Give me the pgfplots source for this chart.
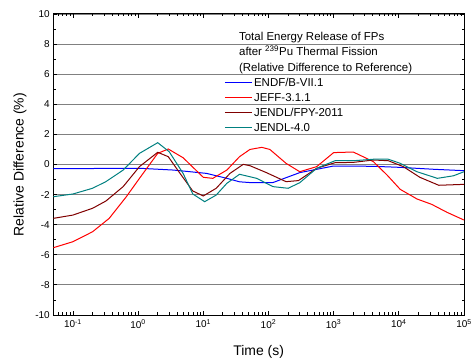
\documentclass[border=0pt]{standalone}
\usepackage{fontspec}
\setmainfont{Liberation Sans}
\usepackage{pgfplots}
\pgfplotsset{compat=1.18}

\definecolor{endf}{RGB}{0,0,255}
\definecolor{jeff}{RGB}{255,0,0}
\definecolor{fpy}{RGB}{128,0,0}
\definecolor{jendl}{RGB}{0,128,128}

\begin{document}
\begin{tikzpicture}
\path[use as bounding box] (-53.3bp,-46bp) rectangle (417.7bp,315bp);
\begin{axis}[
  at={(0,0)}, anchor=south west,
  scale only axis, width=410.7bp, height=301bp,
  xmode=log, xmin=0.05, xmax=1e5,
  ymin=-10, ymax=10,
  xtick={0.1,1,10,100,1000,10000,100000},
  xticklabels={10\textsuperscript{-1},10\textsuperscript{0},10\textsuperscript{1},10\textsuperscript{2},10\textsuperscript{3},10\textsuperscript{4},10\textsuperscript{5}},
  minor xtick={0.06,0.07,0.08,0.09,
    0.2,0.3,0.4,0.5,0.6,0.7,0.8,0.9,
    2,3,4,5,6,7,8,9,
    20,30,40,50,60,70,80,90,
    200,300,400,500,600,700,800,900,
    2000,3000,4000,5000,6000,7000,8000,9000,
    20000,30000,40000,50000,60000,70000,80000,90000},
  ytick={-10,-8,-6,-4,-2,0,2,4,6,8,10},
  yticklabels={-10,-8,-6,-4,-2,0,2,4,6,8,10},
  minor ytick={-9,-7,-5,-3,-1,1,3,5,7,9},
  ymajorgrids,
  major grid style={black!50, line width=0.8bp},
  tick align=inside,
  major tick length=4bp, minor tick length=2.5bp,
  every tick/.style={black, line width=0.8bp},
  axis line style={black, line width=1bp},
  tick label style={font=\fontsize{10}{12}\selectfont},
  xticklabel style={yshift=-1bp},
  xlabel={Time (s)},
  ylabel={Relative Difference (\%)},
  label style={font=\fontsize{14}{16}\selectfont},
  xlabel style={at={(axis description cs:0.5,-0.123)}, anchor=center},
  ylabel style={at={(axis description cs:-0.081,0.5)}, anchor=center, rotate=0},
  legend style={at={(axis description cs:0.4156,0.7924)}, anchor=north west,
    draw=none, fill=none, inner sep=0pt,
    font=\fontsize{11.5}{14}\selectfont,
    row sep=3bp, column sep=0pt,
    nodes={inner sep=0pt, inner xsep=1.3bp, text height=9.5bp, text depth=2.5bp},
    cells={anchor=west}},
  legend image code/.code={\draw[#1, line width=1.2bp] (0bp,0bp) -- (27.4bp,0bp);},
  every axis plot/.append style={line width=1bp},
]

% ENDF/B-VII.1
\addplot[endf] coordinates {
  (0.05,-0.28) (1.05,-0.25) (3.5,-0.37) (11.2,-0.59) (23,-0.92) (36,-1.15)
  (52,-1.2) (117,-1.2) (302,-0.54) (1000,-0.1) (4070,-0.12) (10500,-0.19)
  (35000,-0.32) (100000,-0.41)
};
\addlegendentry{ENDF/B-VII.1}

% JEFF-3.1.1
\addplot[jeff] coordinates {
  (0.05,-5.53) (0.1,-5.13) (0.2,-4.47) (0.36,-3.58) (0.66,-2.14) (1.05,-0.92)
  (2.0,0.74) (2.9,1.03) (4.9,0.45) (10,-0.85) (14,-0.92) (23,-0.37) (36,0.52)
  (52,1.0) (79,1.14) (105,1.0) (186,0.08) (302,-0.48) (550,-0.14) (1000,0.79)
  (2000,0.83) (4070,0.19) (6600,-0.70) (10500,-1.65) (19000,-2.29)
  (32000,-2.65) (55000,-3.18) (100000,-3.69)
};
\addlegendentry{JEFF-3.1.1}

% JENDL/FPY-2011
\addplot[fpy] coordinates {
  (0.05,-3.58) (0.1,-3.36) (0.2,-2.91) (0.32,-2.43) (0.59,-1.47) (1.05,-0.14)
  (2.0,0.81) (2.9,0.52) (4.4,-0.59) (6.9,-1.76) (10,-2.09) (15.8,-1.58)
  (25.7,-0.59) (41,0.01) (52,-0.08) (93,-0.54) (186,-1.14) (288,-1.07)
  (550,-0.25) (1050,0.12) (2000,0.14) (4070,0.30) (6900,0.25) (11700,-0.14)
  (21000,-0.85) (41000,-1.38) (100000,-1.32)
};
\addlegendentry{JENDL/FPY-2011}

% JENDL-4.0
\addplot[jendl] coordinates {
  (0.05,-2.14) (0.1,-1.96) (0.2,-1.58) (0.32,-1.14) (0.59,-0.37) (1.05,0.74)
  (2.0,1.45) (3.0,0.85) (4.9,-0.59) (6.9,-1.96) (10.5,-2.47) (15.8,-2.03)
  (23,-1.25) (36,-0.65) (66,-0.92) (117,-1.47) (200,-1.58) (302,-1.21)
  (550,-0.25) (1050,0.25) (2000,0.25) (4070,0.35) (6900,0.35) (10500,0.08)
  (19000,-0.48) (39000,-0.92) (69000,-0.75) (100000,-0.48)
};
\addlegendentry{JENDL-4.0}

% caption lines above the legend
\node[anchor=base west, inner sep=0pt, font=\fontsize{11.5}{14}\selectfont]
  at (axis description cs:0.452,0.9126) {Total Energy Release of FPs};
\node[anchor=base west, inner sep=0pt, font=\fontsize{11.5}{14}\selectfont]
  at (axis description cs:0.452,0.8605) {after \textsuperscript{239}Pu Thermal Fission};
\node[anchor=base west, inner sep=0pt, font=\fontsize{11.5}{14}\selectfont]
  at (axis description cs:0.452,0.8083) {(Relative Difference to Reference)};
\end{axis}
\end{tikzpicture}
\end{document}
